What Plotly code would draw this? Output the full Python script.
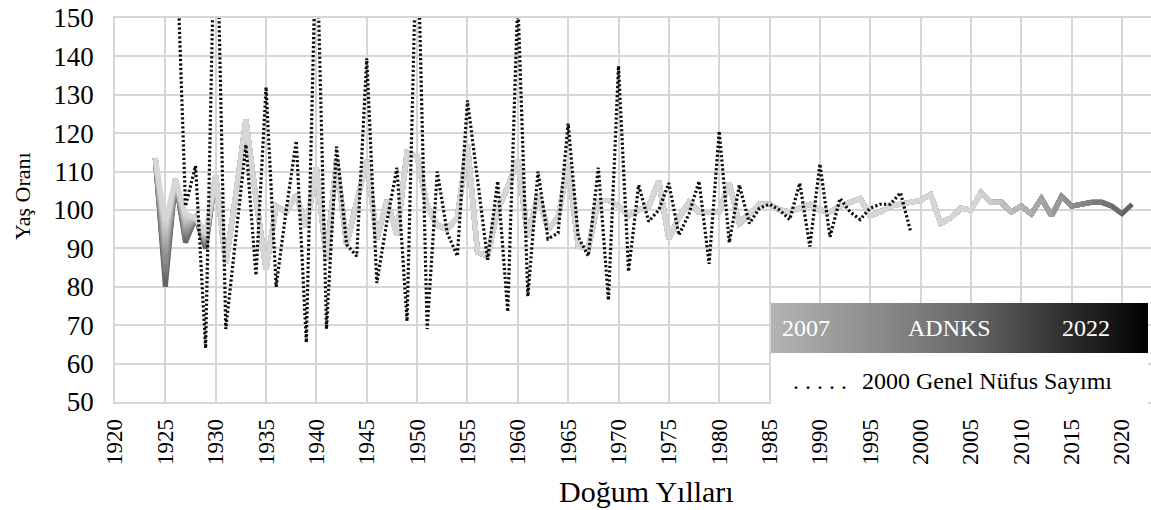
import plotly.graph_objects as go

# ADNKS age ratios by birth year (top visible light line), 1924-2021
birth_years = list(range(1924, 2022))
adnks_profile = [
    113.5, 97, 108, 99, 98, 94,                                   # 1924-1929
    109, 86, 104, 123.5, 103, 84.5, 101, 99.5, 104, 95.5,         # 1930s
    111, 87, 113, 91, 102, 113, 92.5, 102.5, 93.5, 115,           # 1940s
    114, 101, 96, 95, 98, 117, 89, 88, 100, 106,                  # 1950s
    113, 93, 104, 95, 98, 112, 90.5, 90, 102.5, 102.5,            # 1960s
    101, 98.5, 100, 101, 107.5, 92.5, 98, 102, 99.5, 99.5,        # 1970s
    99.5, 107, 96.5, 99, 101.5, 101.5, 100, 99.5, 100.5, 101.5,   # 1980s
    100, 99.5, 101, 102, 103, 98.5, 99.5, 101, 101.5, 102,        # 1990s
    102.5, 104, 96.5, 98, 100.5, 100, 104.5, 102, 102, 99.5,      # 2000s
    101, 99, 103, 98.5, 103.5, 101, 101.5, 102, 102, 101,         # 2010s
    99, 101.5,                                                    # 2020-2021
]
# survey years and the values each survey gives for the oldest cohorts (fan at left)
adnks_years = list(range(2007, 2023))
adnks_1925 = [97, 96, 95, 94, 93, 92, 91, 90, 89, 88, 86, 85, 84, 83, 82, 80]
adnks_1927 = [99, 98.5, 98, 97.5, 97, 96.5, 96, 95.5, 95, 94.5, 94, 93.5, 93, 92.5, 92, 91.5]
adnks_1929 = [94, 94, 93.5, 93.5, 93, 93, 92.5, 92.5, 92, 92, 91.5, 91.5, 91, 91, 90.5, 90]

# 2000 census age ratios by birth year
census_years = list(range(1926, 2000))
census_2000 = [
    178, 101, 111.5, 64,                                          # 1926-1929
    190, 69, 93, 117, 83, 132, 80, 100, 118, 65.5,                # 1930s
    175, 69, 116.5, 91, 88, 139.5, 81, 97, 111, 71,               # 1940s
    177, 69, 110, 94, 88, 128.5, 108, 87, 107.5, 73.5,            # 1950s
    155, 77.5, 110, 92.5, 94, 122.5, 93, 88, 111, 76.5,           # 1960s
    137.5, 84, 106.5, 97, 100, 107, 93.5, 99, 107.5, 86,          # 1970s
    120.5, 91.5, 106.5, 96.5, 100.5, 101.5, 100, 97.5, 107, 90.5, # 1980s
    112, 93, 103, 99.5, 97.5, 100.5, 101.5, 101.5, 104.5, 94.5,   # 1990s
]

FONT = "Liberation Serif, Times New Roman, serif"
GRID = "#d6d6d6"
W, H = 1151, 510
L, R, T, B = 115, 0, 18, 108
PW, PH = W - L - R, H - T - B


# page pixel -> paper fraction
def px(x):
    return (x - L) / PW


def py(y):
    return (H - B - y) / PH


def label(text, x, y, size, color="black", anchor="center", angle=0):
    return dict(text=text, x=px(x), y=py(y), xref="paper", yref="paper",
                xanchor=anchor, yanchor="middle", textangle=angle, showarrow=False,
                font=dict(family=FONT, size=size, color=color))


fig = go.Figure()

# latest survey at the bottom, 2007 on top
n = len(adnks_years)
for i in reversed(range(n)):
    yr = adnks_years[i]
    g = int(round(214 - i * (214 - 100) / (n - 1)))
    ys = list(adnks_profile)
    ys[1925 - 1924] = adnks_1925[i]
    ys[1927 - 1924] = adnks_1927[i]
    ys[1929 - 1924] = adnks_1929[i]
    k = yr - 1924  # cohorts up to yr-1
    fig.add_trace(go.Scatter(
        x=birth_years[:k], y=ys[:k], mode="lines", name=f"ADNKS {yr}",
        line=dict(color=f"rgb({g},{g},{g})", width=5), showlegend=False,
        hoverinfo="skip",
    ))

fig.add_trace(go.Scatter(
    x=census_years, y=census_2000, mode="lines", name="2000 Genel Nüfus Sayımı",
    line=dict(color="#0a0a0a", width=3.2, dash="2.2px,2.3px"), showlegend=False,
))

# gradient bar of the legend
fig.add_trace(go.Scatter(
    x=[0, 1, 1, 0, 0], y=[0, 0, 1, 1, 0], mode="lines", fill="toself",
    line=dict(width=0), xaxis="x2", yaxis="y2", showlegend=False, hoverinfo="skip",
    fillgradient=dict(type="horizontal",
                      colorscale=[[0, "#b4b4b4"], [0.5, "#6c6c6c"], [1, "#000000"]]),
))

fig.update_layout(
    width=W, height=H,
    margin=dict(l=L, r=R, t=T, b=B, autoexpand=False),
    paper_bgcolor="white", plot_bgcolor="white",
    font=dict(family=FONT, color="#000000", size=22),
    xaxis=dict(
        range=[1920, 1920 + PW / 10.07], tick0=1920, dtick=5, tickangle=-90,
        showgrid=True, gridcolor=GRID, gridwidth=1.6, zeroline=False,
        showline=True, mirror=True, linecolor=GRID, linewidth=1.6,
        ticks="", ticklabelstandoff=6, automargin=False, ticklabeloverflow="allow",
        tickfont=dict(family=FONT, size=23, color="#000"),
    ),
    yaxis=dict(
        range=[50, 150], tick0=50, dtick=10,
        showgrid=True, gridcolor=GRID, gridwidth=1.6, zeroline=False,
        showline=True, mirror=True, linecolor=GRID, linewidth=1.6,
        ticks="", ticklabelstandoff=14, automargin=False, ticklabeloverflow="allow",
        tickfont=dict(family=FONT, size=27, color="#000"),
    ),
    xaxis2=dict(domain=[px(771), px(1148)], range=[0, 1], visible=False, fixedrange=True),
    yaxis2=dict(domain=[py(353), py(303)], range=[0, 1], visible=False, fixedrange=True,
                anchor="x2"),
    shapes=[dict(
        type="rect", xref="paper", yref="paper", layer="above",
        x0=px(771), x1=px(1148), y0=py(411), y1=py(353),
        fillcolor="white", line=dict(width=0),
    )],
    annotations=[
        label("2007", 806, 328, 24, "white"),
        label("ADNKS", 949, 328, 24, "white"),
        label("2022", 1086, 328, 24, "white"),
        label(". . . . .", 820, 381, 24),
        label("2000 Genel Nüfus Sayımı", 860, 381, 24, anchor="left"),
        label("Yaş Oranı", 22, 196, 22, angle=-90),
        label("Doğum Yılları", 646, 491, 30),
    ],
)

# drop the default page margin so the figure sits at the window's corner
fig.write_html("out.html", config={"displayModeBar": False},
               post_script="document.body.style.margin = '0px';")
